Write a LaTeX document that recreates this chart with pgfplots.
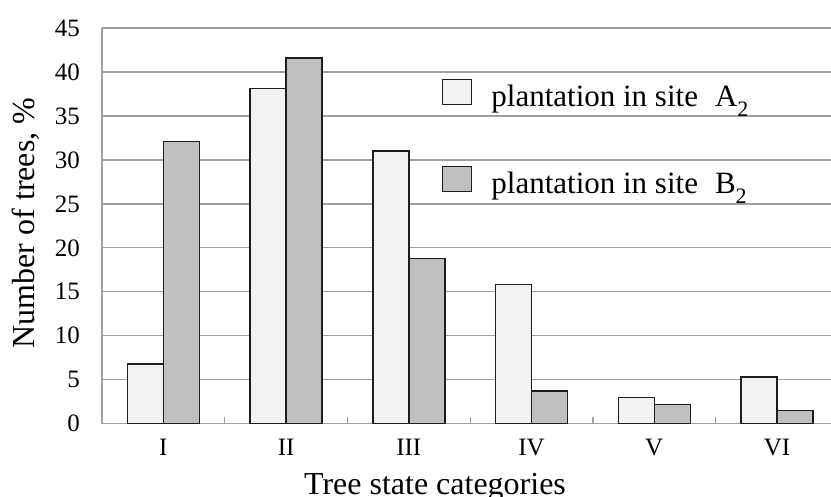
\documentclass[border=0pt]{standalone}
\usepackage{fontspec}
\setmainfont{Liberation Serif}
\usepackage{pgfplots}
\pgfplotsset{compat=1.18}
\definecolor{barA}{HTML}{F2F2F2}
\definecolor{barB}{HTML}{C0C0C0}
\definecolor{gridc}{HTML}{A0A0A0}
\definecolor{edgec}{HTML}{1E1E1E}
\pgfplotsset{boxlegend/.style={legend image code/.code={\draw[##1, line width=1pt] (0pt,-5pt) rectangle (29pt,20pt); \path (48pt,0pt);}}}
\begin{document}
\begin{tikzpicture}
\useasboundingbox (-102pt,-73.3pt) rectangle (729pt,423.7pt);
\clip (-102pt,-73.3pt) rectangle (729pt,423.7pt);
\begin{axis}[
  scale only axis, width=729pt, height=395.7pt,
  ybar=0pt, bar width=36pt,
  xmin=-0.5, xmax=5.44, ymin=0, ymax=45,
  axis lines*=left,
  axis line style={draw=gridc, line width=1.3pt, -},
  xtick={0,1,2,3,4,5}, xticklabels={I,II,III,IV,V,VI},
  ytick={0,5,...,45},
  ymajorgrids, grid style={draw=gridc, line width=1.3pt},
  major tick length=0pt,
  extra x ticks={0.5,1.5,2.5,3.5,4.5}, extra x tick labels={},
  extra x tick style={major tick length=7pt, tick align=inside, grid=none,
    tick style={draw=gridc, line width=1.3pt}},
  /pgf/number format/assume math mode=true,
  yticklabel style={font=\fontsize{25}{29}\selectfont, anchor=east, inner sep=0pt, xshift=-22pt},
  xticklabel style={font=\fontsize{25}{29}\selectfont, anchor=north, inner sep=0pt, yshift=-15pt},
  xlabel={Tree state categories},
  xlabel style={font=\fontsize{32}{38}\selectfont, at={(rel axis cs:0.4568,0)}, anchor=base, yshift=-71.3pt, inner sep=0pt},
  ylabel={Number of trees, \%},
  ylabel style={font=\fontsize{32}{38}\selectfont, at={([xshift=-67pt]rel axis cs:0,0.507)}, anchor=base, inner sep=0pt},
  legend style={at={(rel axis cs:0.4664,0.871)}, anchor=north west, draw=none, fill=none,
    inner sep=0pt, row sep=52pt, font=\fontsize{31}{36}\selectfont,
    nodes={inner sep=0pt, text height=21pt, text depth=7pt}},
  legend cell align=left,
]
\addplot[fill=barA, draw=edgec, line width=1.4pt, boxlegend]
  coordinates {(0,6.8) (1,38.1) (2,31.0) (3,15.8) (4,3.0) (5,5.3)};
\addlegendentry{plantation in site\hspace{17pt}A\raisebox{-10pt}{\fontsize{22}{24}\selectfont 2}}
\addplot[fill=barB, draw=edgec, line width=1.4pt, boxlegend]
  coordinates {(0,32.1) (1,41.6) (2,18.8) (3,3.7) (4,2.2) (5,1.5)};
\addlegendentry{plantation in site\hspace{17pt}B\raisebox{-10pt}{\fontsize{22}{24}\selectfont 2}}
\end{axis}
\end{tikzpicture}
\end{document}
